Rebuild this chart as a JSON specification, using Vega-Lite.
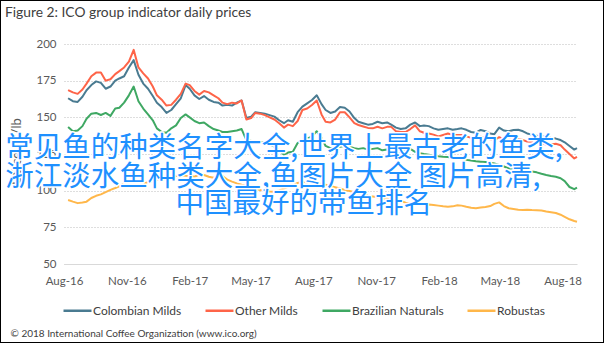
{
  "$schema": "https://vega.github.io/schema/vega-lite/v6.json",
  "width": 604,
  "height": 343,
  "autosize": "none",
  "padding": 0,
  "background": "white",
  "config": {
    "view": {"stroke": "#000000", "strokeWidth": 2},
    "font": "Lato"
  },
  "title": {
    "text": "Figure 2: ICO group indicator daily prices",
    "anchor": "start",
    "frame": "group",
    "fontSize": 13.8,
    "fontWeight": "normal",
    "font": "Lato",
    "color": "#404040",
    "offset": -20,
    "dx": 5
  },
  "datasets": {
    "prices": [
      {"date": "2016-08-07", "Colombian Milds": 163, "Other Milds": 168.6, "Brazilian Naturals": 143.4, "Robustas": 93.6},
      {"date": "2016-08-14", "Colombian Milds": 161, "Other Milds": 167, "Brazilian Naturals": 140.5, "Robustas": 92.5},
      {"date": "2016-08-21", "Colombian Milds": 160.5, "Other Milds": 166, "Brazilian Naturals": 141, "Robustas": 91.5},
      {"date": "2016-08-28", "Colombian Milds": 164, "Other Milds": 169, "Brazilian Naturals": 144, "Robustas": 92},
      {"date": "2016-09-03", "Colombian Milds": 168.5, "Other Milds": 173, "Brazilian Naturals": 149, "Robustas": 92.5},
      {"date": "2016-09-10", "Colombian Milds": 172, "Other Milds": 178, "Brazilian Naturals": 152.5, "Robustas": 95},
      {"date": "2016-09-17", "Colombian Milds": 174.5, "Other Milds": 180.5, "Brazilian Naturals": 153, "Robustas": 96.5},
      {"date": "2016-09-24", "Colombian Milds": 173.5, "Other Milds": 180.5, "Brazilian Naturals": 151.6, "Robustas": 97.5},
      {"date": "2016-10-01", "Colombian Milds": 169.5, "Other Milds": 175, "Brazilian Naturals": 153, "Robustas": 99},
      {"date": "2016-10-08", "Colombian Milds": 171, "Other Milds": 176, "Brazilian Naturals": 151, "Robustas": 100.5},
      {"date": "2016-10-15", "Colombian Milds": 175, "Other Milds": 179.5, "Brazilian Naturals": 156, "Robustas": 101.8},
      {"date": "2016-10-21", "Colombian Milds": 176.5, "Other Milds": 181.5, "Brazilian Naturals": 156.5, "Robustas": 103},
      {"date": "2016-10-28", "Colombian Milds": 178, "Other Milds": 184, "Brazilian Naturals": 160, "Robustas": 105},
      {"date": "2016-11-04", "Colombian Milds": 184, "Other Milds": 188, "Brazilian Naturals": 165, "Robustas": 106},
      {"date": "2016-11-11", "Colombian Milds": 189, "Other Milds": 196, "Brazilian Naturals": 171, "Robustas": 105},
      {"date": "2016-11-18", "Colombian Milds": 179, "Other Milds": 184, "Brazilian Naturals": 161, "Robustas": 103.5},
      {"date": "2016-11-25", "Colombian Milds": 173, "Other Milds": 180, "Brazilian Naturals": 156, "Robustas": 104.5},
      {"date": "2016-12-02", "Colombian Milds": 169.5, "Other Milds": 176.5, "Brazilian Naturals": 152, "Robustas": 106},
      {"date": "2016-12-09", "Colombian Milds": 164.5, "Other Milds": 171, "Brazilian Naturals": 148, "Robustas": 106.5},
      {"date": "2016-12-15", "Colombian Milds": 160, "Other Milds": 165, "Brazilian Naturals": 142.5, "Robustas": 107.2},
      {"date": "2016-12-22", "Colombian Milds": 157, "Other Milds": 162, "Brazilian Naturals": 140, "Robustas": 107.5},
      {"date": "2016-12-29", "Colombian Milds": 153, "Other Milds": 158, "Brazilian Naturals": 139.5, "Robustas": 108.2},
      {"date": "2017-01-05", "Colombian Milds": 155, "Other Milds": 158.5, "Brazilian Naturals": 142.5, "Robustas": 109},
      {"date": "2017-01-12", "Colombian Milds": 159, "Other Milds": 162, "Brazilian Naturals": 144.5, "Robustas": 110},
      {"date": "2017-01-19", "Colombian Milds": 163, "Other Milds": 166, "Brazilian Naturals": 149.5, "Robustas": 110.7},
      {"date": "2017-01-26", "Colombian Milds": 172, "Other Milds": 173, "Brazilian Naturals": 152, "Robustas": 110.2},
      {"date": "2017-02-01", "Colombian Milds": 169.5, "Other Milds": 172, "Brazilian Naturals": 150, "Robustas": 110},
      {"date": "2017-02-08", "Colombian Milds": 165, "Other Milds": 168, "Brazilian Naturals": 147.5, "Robustas": 109.5},
      {"date": "2017-02-15", "Colombian Milds": 162.5, "Other Milds": 165.5, "Brazilian Naturals": 146, "Robustas": 111},
      {"date": "2017-02-22", "Colombian Milds": 164.5, "Other Milds": 168, "Brazilian Naturals": 146.5, "Robustas": 110.7},
      {"date": "2017-03-01", "Colombian Milds": 162, "Other Milds": 167, "Brazilian Naturals": 144, "Robustas": 109.5},
      {"date": "2017-03-08", "Colombian Milds": 160.5, "Other Milds": 165, "Brazilian Naturals": 142, "Robustas": 108.8},
      {"date": "2017-03-15", "Colombian Milds": 160, "Other Milds": 163, "Brazilian Naturals": 141, "Robustas": 111},
      {"date": "2017-03-21", "Colombian Milds": 158, "Other Milds": 160, "Brazilian Naturals": 140, "Robustas": 110},
      {"date": "2017-03-28", "Colombian Milds": 158.5, "Other Milds": 159, "Brazilian Naturals": 140, "Robustas": 107.5},
      {"date": "2017-04-04", "Colombian Milds": 158, "Other Milds": 160, "Brazilian Naturals": 140.5, "Robustas": 106.2},
      {"date": "2017-04-11", "Colombian Milds": 160, "Other Milds": 159.5, "Brazilian Naturals": 141, "Robustas": 105},
      {"date": "2017-04-18", "Colombian Milds": 161.5, "Other Milds": 161.5, "Brazilian Naturals": 142, "Robustas": 104},
      {"date": "2017-04-25", "Colombian Milds": 149.5, "Other Milds": 148.5, "Brazilian Naturals": 134.5, "Robustas": 103.5},
      {"date": "2017-05-02", "Colombian Milds": 150.5, "Other Milds": 149.5, "Brazilian Naturals": 134, "Robustas": 102.7},
      {"date": "2017-05-08", "Colombian Milds": 153.5, "Other Milds": 153, "Brazilian Naturals": 133.8, "Robustas": 101.5},
      {"date": "2017-05-15", "Colombian Milds": 153, "Other Milds": 152.5, "Brazilian Naturals": 133.2, "Robustas": 100.4},
      {"date": "2017-05-22", "Colombian Milds": 152.5, "Other Milds": 151.5, "Brazilian Naturals": 132.5, "Robustas": 100},
      {"date": "2017-05-29", "Colombian Milds": 151.5, "Other Milds": 150, "Brazilian Naturals": 131.5, "Robustas": 99.5},
      {"date": "2017-06-05", "Colombian Milds": 150.5, "Other Milds": 148.5, "Brazilian Naturals": 130, "Robustas": 99.3},
      {"date": "2017-06-12", "Colombian Milds": 148, "Other Milds": 146, "Brazilian Naturals": 127.5, "Robustas": 100.2},
      {"date": "2017-06-19", "Colombian Milds": 146, "Other Milds": 143, "Brazilian Naturals": 124.5, "Robustas": 101.5},
      {"date": "2017-06-25", "Colombian Milds": 148, "Other Milds": 145, "Brazilian Naturals": 126, "Robustas": 102.7},
      {"date": "2017-07-02", "Colombian Milds": 147, "Other Milds": 144, "Brazilian Naturals": 126.6, "Robustas": 103.8},
      {"date": "2017-07-09", "Colombian Milds": 153.5, "Other Milds": 147.5, "Brazilian Naturals": 132.5, "Robustas": 105.2},
      {"date": "2017-07-16", "Colombian Milds": 157.3, "Other Milds": 155, "Brazilian Naturals": 134.5, "Robustas": 106},
      {"date": "2017-07-23", "Colombian Milds": 159.5, "Other Milds": 156, "Brazilian Naturals": 135.5, "Robustas": 105.5},
      {"date": "2017-07-30", "Colombian Milds": 161.8, "Other Milds": 158.4, "Brazilian Naturals": 137, "Robustas": 105},
      {"date": "2017-08-06", "Colombian Milds": 165, "Other Milds": 161.5, "Brazilian Naturals": 140.5, "Robustas": 105},
      {"date": "2017-08-13", "Colombian Milds": 159, "Other Milds": 152, "Brazilian Naturals": 136, "Robustas": 104.5},
      {"date": "2017-08-19", "Colombian Milds": 155, "Other Milds": 147, "Brazilian Naturals": 130.5, "Robustas": 104},
      {"date": "2017-08-26", "Colombian Milds": 153, "Other Milds": 146.5, "Brazilian Naturals": 129, "Robustas": 103},
      {"date": "2017-09-02", "Colombian Milds": 154, "Other Milds": 148.5, "Brazilian Naturals": 129.5, "Robustas": 102.3},
      {"date": "2017-09-09", "Colombian Milds": 157, "Other Milds": 153.5, "Brazilian Naturals": 130, "Robustas": 101.5},
      {"date": "2017-09-16", "Colombian Milds": 156.5, "Other Milds": 153.5, "Brazilian Naturals": 130.5, "Robustas": 100.5},
      {"date": "2017-09-23", "Colombian Milds": 154, "Other Milds": 150, "Brazilian Naturals": 130, "Robustas": 99.8},
      {"date": "2017-09-30", "Colombian Milds": 149.5, "Other Milds": 146, "Brazilian Naturals": 129, "Robustas": 99},
      {"date": "2017-10-06", "Colombian Milds": 147, "Other Milds": 144.8, "Brazilian Naturals": 128.5, "Robustas": 98},
      {"date": "2017-10-13", "Colombian Milds": 146, "Other Milds": 143.8, "Brazilian Naturals": 129, "Robustas": 97.5},
      {"date": "2017-10-20", "Colombian Milds": 145, "Other Milds": 142.8, "Brazilian Naturals": 128, "Robustas": 96.5},
      {"date": "2017-10-27", "Colombian Milds": 145.5, "Other Milds": 142.5, "Brazilian Naturals": 128.5, "Robustas": 96},
      {"date": "2017-11-03", "Colombian Milds": 147, "Other Milds": 143.6, "Brazilian Naturals": 129, "Robustas": 95.5},
      {"date": "2017-11-10", "Colombian Milds": 146, "Other Milds": 142.5, "Brazilian Naturals": 127.5, "Robustas": 95},
      {"date": "2017-11-17", "Colombian Milds": 146.5, "Other Milds": 143.5, "Brazilian Naturals": 128, "Robustas": 94.5},
      {"date": "2017-11-23", "Colombian Milds": 145, "Other Milds": 143.5, "Brazilian Naturals": 127, "Robustas": 94},
      {"date": "2017-11-30", "Colombian Milds": 143, "Other Milds": 140.5, "Brazilian Naturals": 124.5, "Robustas": 93.6},
      {"date": "2017-12-07", "Colombian Milds": 142, "Other Milds": 140, "Brazilian Naturals": 125.5, "Robustas": 93},
      {"date": "2017-12-14", "Colombian Milds": 142.5, "Other Milds": 140, "Brazilian Naturals": 128, "Robustas": 91.8},
      {"date": "2017-12-21", "Colombian Milds": 145, "Other Milds": 142, "Brazilian Naturals": 128.5, "Robustas": 91.2},
      {"date": "2017-12-28", "Colombian Milds": 146.5, "Other Milds": 144.5, "Brazilian Naturals": 126.5, "Robustas": 90.5},
      {"date": "2018-01-04", "Colombian Milds": 144, "Other Milds": 140.5, "Brazilian Naturals": 125.5, "Robustas": 90.2},
      {"date": "2018-01-10", "Colombian Milds": 144.5, "Other Milds": 139.5, "Brazilian Naturals": 125, "Robustas": 90.4},
      {"date": "2018-01-17", "Colombian Milds": 144, "Other Milds": 139, "Brazilian Naturals": 124.5, "Robustas": 90.5},
      {"date": "2018-01-24", "Colombian Milds": 142.5, "Other Milds": 138.2, "Brazilian Naturals": 124, "Robustas": 90.2},
      {"date": "2018-01-31", "Colombian Milds": 141.5, "Other Milds": 137, "Brazilian Naturals": 123.5, "Robustas": 89.8},
      {"date": "2018-02-07", "Colombian Milds": 142, "Other Milds": 138, "Brazilian Naturals": 123.2, "Robustas": 89.3},
      {"date": "2018-02-14", "Colombian Milds": 142.5, "Other Milds": 139, "Brazilian Naturals": 123, "Robustas": 89},
      {"date": "2018-02-21", "Colombian Milds": 141.5, "Other Milds": 138, "Brazilian Naturals": 122.5, "Robustas": 89.3},
      {"date": "2018-02-28", "Colombian Milds": 142, "Other Milds": 138, "Brazilian Naturals": 122, "Robustas": 90},
      {"date": "2018-03-06", "Colombian Milds": 142.5, "Other Milds": 138, "Brazilian Naturals": 121.5, "Robustas": 89.8},
      {"date": "2018-03-13", "Colombian Milds": 141.5, "Other Milds": 137, "Brazilian Naturals": 121, "Robustas": 89},
      {"date": "2018-03-20", "Colombian Milds": 140, "Other Milds": 136, "Brazilian Naturals": 120.5, "Robustas": 88.3},
      {"date": "2018-03-27", "Colombian Milds": 139.5, "Other Milds": 135.7, "Brazilian Naturals": 120, "Robustas": 88},
      {"date": "2018-04-03", "Colombian Milds": 141.4, "Other Milds": 136.8, "Brazilian Naturals": 119.8, "Robustas": 88.5},
      {"date": "2018-04-10", "Colombian Milds": 140.5, "Other Milds": 136, "Brazilian Naturals": 119.5, "Robustas": 88.8},
      {"date": "2018-04-17", "Colombian Milds": 139, "Other Milds": 135, "Brazilian Naturals": 119, "Robustas": 89.5},
      {"date": "2018-04-23", "Colombian Milds": 138.5, "Other Milds": 134.5, "Brazilian Naturals": 118.5, "Robustas": 91},
      {"date": "2018-04-30", "Colombian Milds": 143, "Other Milds": 136.5, "Brazilian Naturals": 117.5, "Robustas": 92},
      {"date": "2018-05-07", "Colombian Milds": 141, "Other Milds": 135, "Brazilian Naturals": 116.5, "Robustas": 89.5},
      {"date": "2018-05-14", "Colombian Milds": 140.5, "Other Milds": 134.5, "Brazilian Naturals": 115.2, "Robustas": 88},
      {"date": "2018-05-21", "Colombian Milds": 141.4, "Other Milds": 135.5, "Brazilian Naturals": 115, "Robustas": 87.5},
      {"date": "2018-05-28", "Colombian Milds": 141.5, "Other Milds": 135, "Brazilian Naturals": 114.5, "Robustas": 87},
      {"date": "2018-06-04", "Colombian Milds": 140.5, "Other Milds": 134.5, "Brazilian Naturals": 114, "Robustas": 86.8},
      {"date": "2018-06-10", "Colombian Milds": 139, "Other Milds": 133.5, "Brazilian Naturals": 113.5, "Robustas": 87},
      {"date": "2018-06-17", "Colombian Milds": 138.2, "Other Milds": 133.4, "Brazilian Naturals": 113, "Robustas": 86.8},
      {"date": "2018-06-24", "Colombian Milds": 137.5, "Other Milds": 133, "Brazilian Naturals": 112.5, "Robustas": 86.7},
      {"date": "2018-07-01", "Colombian Milds": 136.8, "Other Milds": 132.3, "Brazilian Naturals": 111.5, "Robustas": 86.5},
      {"date": "2018-07-08", "Colombian Milds": 137, "Other Milds": 131.5, "Brazilian Naturals": 110.7, "Robustas": 85.8},
      {"date": "2018-07-15", "Colombian Milds": 136, "Other Milds": 131.5, "Brazilian Naturals": 110, "Robustas": 85.3},
      {"date": "2018-07-22", "Colombian Milds": 135.5, "Other Milds": 132, "Brazilian Naturals": 109.5, "Robustas": 84.8},
      {"date": "2018-07-29", "Colombian Milds": 134.5, "Other Milds": 131, "Brazilian Naturals": 108.5, "Robustas": 83.6},
      {"date": "2018-08-04", "Colombian Milds": 133, "Other Milds": 128, "Brazilian Naturals": 106.5, "Robustas": 82.2},
      {"date": "2018-08-11", "Colombian Milds": 130.5, "Other Milds": 125, "Brazilian Naturals": 102.5, "Robustas": 80.5},
      {"date": "2018-08-18", "Colombian Milds": 128, "Other Milds": 122, "Brazilian Naturals": 101, "Robustas": 79.3},
      {"date": "2018-08-22", "Colombian Milds": 129, "Other Milds": 123, "Brazilian Naturals": 102, "Robustas": 78.8}
    ]
  },
  "layer": [
    {
      "data": {"name": "prices"},
      "transform": [
        {"fold": ["Colombian Milds", "Other Milds", "Brazilian Naturals", "Robustas"], "as": ["series", "price"]}
      ],
      "mark": {"type": "line", "strokeWidth": 2, "strokeJoin": "round"},
      "encoding": {
        "x": {
          "field": "date",
          "type": "temporal",
          "scale": {
            "type": "utc",
            "domain": [{"year": 2016, "month": 8, "date": 1, "utc": true}, {"year": 2018, "month": 8, "date": 22, "utc": true}],
            "range": [64, 577],
            "nice": false
          },
          "axis": {
            "values": [
              {"year": 2016, "month": 8, "date": 1, "utc": true},
              {"year": 2016, "month": 11, "date": 1, "utc": true},
              {"year": 2017, "month": 2, "date": 1, "utc": true},
              {"year": 2017, "month": 5, "date": 1, "utc": true},
              {"year": 2017, "month": 8, "date": 1, "utc": true},
              {"year": 2017, "month": 11, "date": 1, "utc": true},
              {"year": 2018, "month": 2, "date": 1, "utc": true},
              {"year": 2018, "month": 5, "date": 1, "utc": true},
              {"year": 2018, "month": 8, "date": 1, "utc": true}
            ],
            "format": "%b-%y",
            "grid": false,
            "domain": true,
            "domainColor": "#d9d9d9",
            "domainWidth": 1,
            "ticks": false,
            "labelPadding": 11,
            "labelFontSize": 11.5,
            "labelColor": "#595959",
            "labelFont": "Lato",
            "labelFlush": false,
            "labelOverlap": false,
            "offset": -79,
            "title": "© 2018 International Coffee Organization (www.ico.org)",
            "titleX": 10,
            "titleY": 69,
            "titleAlign": "left",
            "titleAnchor": "start",
            "titleBaseline": "middle",
            "titleFontSize": 10,
            "titleFontWeight": "normal",
            "titleFont": "Lato",
            "titleColor": "#404040"
          }
        },
        "y": {
          "field": "price",
          "type": "quantitative",
          "scale": {"domain": [50, 200], "range": [264, 44], "nice": false, "zero": false},
          "axis": {
            "values": [50, 75, 100, 125, 150, 175, 200],
            "grid": true,
            "gridDash": [1, 2],
            "gridColor": "#bdbdbd",
            "gridWidth": 1.2,
            "domain": false,
            "ticks": false,
            "labelPadding": 12,
            "labelFontSize": 11.5,
            "labelColor": "#595959",
            "labelFont": "Lato",
            "offset": -68,
            "title": "US cents/lb",
            "titleX": -52,
            "titleY": 151,
            "titleAngle": 270,
            "titleAlign": "center",
            "titleBaseline": "middle",
            "titleFontSize": 13,
            "titleFontWeight": "normal",
            "titleFont": "Lato",
            "titleColor": "#595959"
          }
        },
        "color": {
          "field": "series",
          "type": "nominal",
          "scale": {
            "domain": ["Colombian Milds", "Other Milds", "Brazilian Naturals", "Robustas"],
            "range": ["#4a7b91", "#fe6448", "#3fa863", "#ffb74a"]
          },
          "legend": {
            "orient": "none",
            "legendX": 62,
            "legendY": 295,
            "direction": "horizontal",
            "title": null,
            "symbolType": "stroke",
            "symbolSize": 784,
            "symbolStrokeWidth": 2.5,
            "labelFontSize": 12,
            "labelFont": "Lato",
            "labelColor": "#404040",
            "labelOffset": 0,
            "columnPadding": 18,
            "padding": 0
          }
        }
      }
    },
    {
      "data": {"values": [{"label": "常见鱼的种类名字大全,世界上最古老的鱼类,\n浙江淡水鱼种类大全,鱼图片大全 图片高清,"}]},
      "mark": {"type": "text", "align": "left", "baseline": "middle", "lineBreak": "\n", "lineHeight": 29, "font": "Noto Sans CJK SC", "fontSize": 28.5, "stroke": "white", "strokeWidth": 3, "strokeJoin": "round", "fill": "white"},
      "encoding": {
        "text": {"field": "label"},
        "x": {"datum": {"year": 2016, "month": 5, "date": 7, "utc": true}, "type": "temporal"},
        "y": {"datum": 129.1, "type": "quantitative"}
      }
    },
    {
      "data": {"values": [{"label": "常见鱼的种类名字大全,世界上最古老的鱼类,\n浙江淡水鱼种类大全,鱼图片大全 图片高清,"}]},
      "mark": {"type": "text", "align": "left", "baseline": "middle", "lineBreak": "\n", "lineHeight": 29, "font": "Noto Sans CJK SC", "fontSize": 28.5, "fill": "#1e90ff"},
      "encoding": {
        "text": {"field": "label"},
        "x": {"datum": {"year": 2016, "month": 5, "date": 7, "utc": true}, "type": "temporal"},
        "y": {"datum": 129.1, "type": "quantitative"}
      }
    },
    {
      "data": {"values": [{"label": "中国最好的带鱼排名"}]},
      "mark": {"type": "text", "align": "center", "baseline": "middle", "font": "Noto Sans CJK SC", "fontSize": 28.5, "stroke": "white", "strokeWidth": 3, "strokeJoin": "round", "fill": "white"},
      "encoding": {
        "text": {"field": "label"},
        "x": {"datum": {"year": 2017, "month": 7, "date": 18, "utc": true}, "type": "temporal"},
        "y": {"datum": 90.9, "type": "quantitative"}
      }
    },
    {
      "data": {"values": [{"label": "中国最好的带鱼排名"}]},
      "mark": {"type": "text", "align": "center", "baseline": "middle", "font": "Noto Sans CJK SC", "fontSize": 28.5, "fill": "#1e90ff"},
      "encoding": {
        "text": {"field": "label"},
        "x": {"datum": {"year": 2017, "month": 7, "date": 18, "utc": true}, "type": "temporal"},
        "y": {"datum": 90.9, "type": "quantitative"}
      }
    }
  ]
}
